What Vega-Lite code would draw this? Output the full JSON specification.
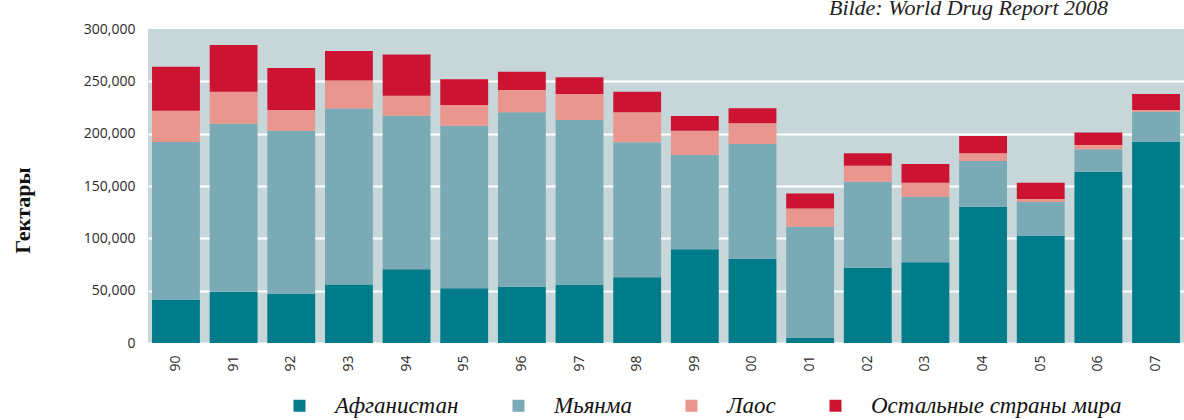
{
  "$schema": "https://vega.github.io/schema/vega-lite/v6.json",
  "autosize": {"type": "none"},
  "width": 1036,
  "height": 314,
  "padding": {"left": 148, "top": 29, "right": 0, "bottom": 77},
  "background": "#ffffff",
  "title": {
    "text": "Bilde: World Drug Report 2008",
    "anchor": "end",
    "dx": -76,
    "offset": 2,
    "font": "Liberation Serif",
    "fontStyle": "italic",
    "fontWeight": "normal",
    "fontSize": 22,
    "color": "#222222"
  },
  "config": {
    "view": {"fill": "#c6d6d9", "stroke": null}
  },
  "data": {
    "values": [
      {"year": "90", "country": "Афганистан", "rank": 1, "hectares": 41000},
      {"year": "90", "country": "Мьянма", "rank": 2, "hectares": 151000},
      {"year": "90", "country": "Лаос", "rank": 3, "hectares": 30000},
      {"year": "90", "country": "Остальные страны мира", "rank": 4, "hectares": 42000},
      {"year": "91", "country": "Афганистан", "rank": 1, "hectares": 49000},
      {"year": "91", "country": "Мьянма", "rank": 2, "hectares": 160500},
      {"year": "91", "country": "Лаос", "rank": 3, "hectares": 30600},
      {"year": "91", "country": "Остальные страны мира", "rank": 4, "hectares": 44600},
      {"year": "92", "country": "Афганистан", "rank": 1, "hectares": 47000},
      {"year": "92", "country": "Мьянма", "rank": 2, "hectares": 155800},
      {"year": "92", "country": "Лаос", "rank": 3, "hectares": 19800},
      {"year": "92", "country": "Остальные страны мира", "rank": 4, "hectares": 40100},
      {"year": "93", "country": "Афганистан", "rank": 1, "hectares": 56000},
      {"year": "93", "country": "Мьянма", "rank": 2, "hectares": 168100},
      {"year": "93", "country": "Лаос", "rank": 3, "hectares": 26800},
      {"year": "93", "country": "Остальные страны мира", "rank": 4, "hectares": 28000},
      {"year": "94", "country": "Афганистан", "rank": 1, "hectares": 70400},
      {"year": "94", "country": "Мьянма", "rank": 2, "hectares": 146700},
      {"year": "94", "country": "Лаос", "rank": 3, "hectares": 19100},
      {"year": "94", "country": "Остальные страны мира", "rank": 4, "hectares": 39500},
      {"year": "95", "country": "Афганистан", "rank": 1, "hectares": 52200},
      {"year": "95", "country": "Мьянма", "rank": 2, "hectares": 155400},
      {"year": "95", "country": "Лаос", "rank": 3, "hectares": 19700},
      {"year": "95", "country": "Остальные страны мира", "rank": 4, "hectares": 24600},
      {"year": "96", "country": "Афганистан", "rank": 1, "hectares": 53800},
      {"year": "96", "country": "Мьянма", "rank": 2, "hectares": 166600},
      {"year": "96", "country": "Лаос", "rank": 3, "hectares": 21300},
      {"year": "96", "country": "Остальные страны мира", "rank": 4, "hectares": 17500},
      {"year": "97", "country": "Афганистан", "rank": 1, "hectares": 55700},
      {"year": "97", "country": "Мьянма", "rank": 2, "hectares": 157300},
      {"year": "97", "country": "Лаос", "rank": 3, "hectares": 24900},
      {"year": "97", "country": "Остальные страны мира", "rank": 4, "hectares": 15900},
      {"year": "98", "country": "Афганистан", "rank": 1, "hectares": 62700},
      {"year": "98", "country": "Мьянма", "rank": 2, "hectares": 129000},
      {"year": "98", "country": "Лаос", "rank": 3, "hectares": 28700},
      {"year": "98", "country": "Остальные страны мира", "rank": 4, "hectares": 19700},
      {"year": "99", "country": "Афганистан", "rank": 1, "hectares": 89500},
      {"year": "99", "country": "Мьянма", "rank": 2, "hectares": 90100},
      {"year": "99", "country": "Лаос", "rank": 3, "hectares": 23200},
      {"year": "99", "country": "Остальные страны мира", "rank": 4, "hectares": 14000},
      {"year": "00", "country": "Афганистан", "rank": 1, "hectares": 80500},
      {"year": "00", "country": "Мьянма", "rank": 2, "hectares": 109600},
      {"year": "00", "country": "Лаос", "rank": 3, "hectares": 19800},
      {"year": "00", "country": "Остальные страны мира", "rank": 4, "hectares": 14300},
      {"year": "01", "country": "Афганистан", "rank": 1, "hectares": 5000},
      {"year": "01", "country": "Мьянма", "rank": 2, "hectares": 106000},
      {"year": "01", "country": "Лаос", "rank": 3, "hectares": 17600},
      {"year": "01", "country": "Остальные страны мира", "rank": 4, "hectares": 14300},
      {"year": "02", "country": "Афганистан", "rank": 1, "hectares": 72000},
      {"year": "02", "country": "Мьянма", "rank": 2, "hectares": 82100},
      {"year": "02", "country": "Лаос", "rank": 3, "hectares": 15300},
      {"year": "02", "country": "Остальные страны мира", "rank": 4, "hectares": 11800},
      {"year": "03", "country": "Афганистан", "rank": 1, "hectares": 77100},
      {"year": "03", "country": "Мьянма", "rank": 2, "hectares": 62700},
      {"year": "03", "country": "Лаос", "rank": 3, "hectares": 13300},
      {"year": "03", "country": "Остальные страны мира", "rank": 4, "hectares": 17900},
      {"year": "04", "country": "Афганистан", "rank": 1, "hectares": 130200},
      {"year": "04", "country": "Мьянма", "rank": 2, "hectares": 43700},
      {"year": "04", "country": "Лаос", "rank": 3, "hectares": 7300},
      {"year": "04", "country": "Остальные страны мира", "rank": 4, "hectares": 16500},
      {"year": "05", "country": "Афганистан", "rank": 1, "hectares": 102200},
      {"year": "05", "country": "Мьянма", "rank": 2, "hectares": 32500},
      {"year": "05", "country": "Лаос", "rank": 3, "hectares": 2800},
      {"year": "05", "country": "Остальные страны мира", "rank": 4, "hectares": 15600},
      {"year": "06", "country": "Афганистан", "rank": 1, "hectares": 163700},
      {"year": "06", "country": "Мьянма", "rank": 2, "hectares": 21300},
      {"year": "06", "country": "Лаос", "rank": 3, "hectares": 4100},
      {"year": "06", "country": "Остальные страны мира", "rank": 4, "hectares": 12100},
      {"year": "07", "country": "Афганистан", "rank": 1, "hectares": 192300},
      {"year": "07", "country": "Мьянма", "rank": 2, "hectares": 28700},
      {"year": "07", "country": "Лаос", "rank": 3, "hectares": 1600},
      {"year": "07", "country": "Остальные страны мира", "rank": 4, "hectares": 15200}
    ]
  },
  "mark": {"type": "bar", "stroke": null},
  "encoding": {
    "x": {
      "field": "year",
      "type": "nominal",
      "sort": null,
      "scale": {"paddingInner": 0.17, "paddingOuter": 0.07},
      "axis": {
        "title": null,
        "labelAngle": -90,
        "labelPadding": 12,
        "labelFont": "Open Sans",
        "labelFontSize": 14,
        "labelColor": "#2a2a2a",
        "ticks": false,
        "domain": false,
        "grid": false
      }
    },
    "y": {
      "field": "hectares",
      "type": "quantitative",
      "stack": "zero",
      "scale": {"domain": [0, 300000], "nice": false},
      "axis": {
        "title": "Гектары",
        "titleFont": "Liberation Serif",
        "titleFontWeight": "bold",
        "titleFontSize": 22,
        "titleColor": "#111111",
        "titleAngle": -90,
        "titleX": -126,
        "titleY": 181,
        "titleAlign": "center",
        "titleBaseline": "middle",
        "values": [0, 50000, 100000, 150000, 200000, 250000, 300000],
        "format": ",.0f",
        "labelFont": "Open Sans",
        "labelFontSize": 14,
        "labelColor": "#2a2a2a",
        "labelPadding": 13,
        "ticks": false,
        "domain": false,
        "grid": true,
        "gridColor": "#ffffff",
        "gridWidth": 2,
        "gridOpacity": {"condition": {"test": "datum.value >= 300000", "value": 0}, "value": 1}
      }
    },
    "color": {
      "field": "country",
      "type": "nominal",
      "scale": {
        "domain": ["Афганистан", "Мьянма", "Лаос", "Остальные страны мира"],
        "range": ["#007b8a", "#7aaab5", "#e8968e", "#cc1432"]
      },
      "legend": {
        "title": null,
        "orient": "none",
        "direction": "horizontal",
        "columns": 4,
        "legendX": 140,
        "legendY": 365,
        "symbolType": "square",
        "symbolSize": 144,
        "symbolStrokeWidth": 0,
        "labelFont": "Liberation Serif",
        "labelFontStyle": "italic",
        "labelFontSize": 23,
        "labelColor": "#111111",
        "labelOffset": 24,
        "columnPadding": 48,
        "labelLimit": 400
      }
    },
    "order": {"field": "rank", "type": "quantitative", "sort": "ascending"}
  }
}
